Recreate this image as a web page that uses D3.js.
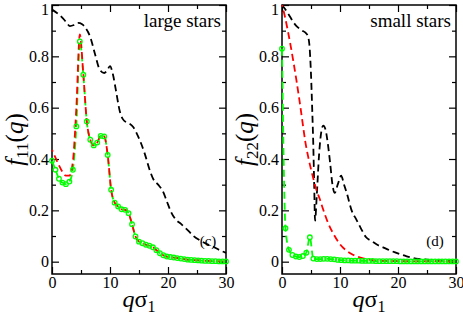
<!DOCTYPE html>
<html><head><meta charset="utf-8">
<script src="https://cdn.jsdelivr.net/npm/d3@7"></script>
<style>body{margin:0;background:#fff}svg{display:block}</style>
</head><body>
<svg id="c" width="463" height="317"></svg>
<script>
// ---- data ----
const qGrid = [0,0.6,1.2,1.8,2.4,3.0,3.6,4.2,4.8,5.4,6.0,6.6,7.2,7.8,8.4,9.0,9.6,10.2,10.8,11.4,12.0,12.6,13.2,13.8,14.4,15.0,15.6,16.2,16.8,17.4,18.0,18.6,19.2,19.8,20.4,21.0,21.6,22.2,22.8,23.4,24.0,24.6,25.2,25.8,26.4,27.0,27.6,28.2,28.8,29.4,30.0];

// left panel (large stars)
const largeGreen = [0.393,0.358,0.323,0.308,0.302,0.312,0.358,0.527,0.858,0.728,0.546,0.475,0.453,0.464,0.49,0.488,0.416,0.28,0.23,0.215,0.204,0.202,0.189,0.146,0.098,0.078,0.072,0.066,0.062,0.056,0.045,0.033,0.025,0.02,0.018,0.016,0.014,0.012,0.01,0.008,0.007,0.006,0.005,0.004,0.003,0.003,0.002,0.002,0.001,0.001,0.001];
const largeRed = [0.436,0.405,0.375,0.35,0.335,0.335,0.39,0.6,0.885,0.73,0.546,0.475,0.453,0.464,0.49,0.488,0.416,0.28,0.23,0.215,0.204,0.202,0.189,0.146,0.098,0.078,0.072,0.066,0.062,0.056,0.045,0.033,0.025,0.02,0.018,0.016,0.014,0.012,0.01,0.008,0.007,0.006,0.005,0.004,0.003,0.003,0.002,0.002,0.001,0.001,0.001];
const largeBlackQ = [0,0.8,1.6,2.4,3.1,3.8,4.5,5.2,5.8,6.6,7.4,8.2,9.0,9.5,10.0,10.5,11.0,11.7,12.4,13.2,14.0,14.6,15.2,16.0,16.8,17.5,18.3,19.1,19.8,20.5,21.3,22.2,23.3,24.4,25.5,26.6,27.8,29.0,30.0];
const largeBlack = [0.982,0.97,0.955,0.935,0.918,0.922,0.93,0.925,0.91,0.875,0.81,0.75,0.735,0.745,0.762,0.73,0.67,0.585,0.55,0.54,0.525,0.5,0.47,0.42,0.36,0.32,0.30,0.275,0.235,0.195,0.165,0.148,0.125,0.1,0.083,0.07,0.058,0.044,0.034];

// right panel (small stars)
const smallGreen = [0.83,0.13,0.046,0.026,0.02,0.018,0.022,0.035,0.095,0.012,0.01,0.01,0.011,0.011,0.01,0.009,0.007,0.006,0.005,0.005,0.004,0.004,0.004,0.003,0.003,0.003,0.003,0.002,0.002,0.002,0.002,0.002,0.002,0.002,0.001,0.001,0.001,0.001,0.001,0.001,0.001,0.001,0.001,0.001,0.001,0.001,0.001,0.001,0.001,0.001,0.001];
const smallRedQ = [0,0.5,1.0,1.5,2.0,2.5,3.0,3.5,4.0,4.5,5.0,5.5,6.0,6.5,7.0,8.0,9.0,10.0,11.0,12.0,13.0,14.0,15.0,16.0,18.0,20.0,22.0,25.0,30.0];
const smallRed = [1.0,0.955,0.9,0.84,0.775,0.705,0.63,0.55,0.47,0.41,0.36,0.315,0.275,0.245,0.21,0.148,0.103,0.068,0.045,0.03,0.02,0.013,0.008,0.005,0.003,0.002,0.001,0.001,0.0005];
const smallBlackQ = [0,0.5,1.0,1.5,2.0,2.5,3.0,3.5,4.0,4.4,4.7,5.0,5.2,5.4,5.55,5.7,6.0,6.4,6.8,7.1,7.5,7.9,8.3,8.7,9.1,9.6,10.2,10.7,11.2,12.0,12.8,13.6,14.5,15.5,16.5,17.5,18.5,19.5,20.5,21.5,22.5,23.5,25.0,26.5,28.0,30.0];
const smallBlack = [1.0,0.985,0.968,0.95,0.932,0.918,0.908,0.9,0.893,0.882,0.85,0.73,0.6,0.45,0.3,0.16,0.26,0.42,0.51,0.53,0.515,0.46,0.384,0.3,0.268,0.3,0.335,0.3,0.265,0.2,0.165,0.13,0.095,0.08,0.065,0.055,0.045,0.036,0.028,0.021,0.015,0.011,0.008,0.006,0.004,0.003];

const xTicks = [0,10,20,30];
const xMinor = [5,15,25];
const yTicks = [0,0.2,0.4,0.6,0.8,1];
const yMinor = [0.1,0.3,0.5,0.7,0.9];

const panels = [
  {x0:52, x1:226, title:"large stars", tag:"(c)", tagX:208, sub:"11",
   black:[largeBlackQ,largeBlack], red:[qGrid,largeRed], green:[qGrid,largeGreen]},
  {x0:282, x1:456, title:"small stars", tag:"(d)", tagX:435, sub:"22",
   black:[smallBlackQ,smallBlack], red:[smallRedQ,smallRed], green:[qGrid,smallGreen]}
];

// ---- drawing ----
const svg = d3.select("#c");
const yTop = 5, yBot = 274;
const FONT = '"Liberation Serif"';
const y = d3.scaleLinear().domain([-0.048,1]).range([yBot,yTop]);

panels.forEach(p => {
  const x = d3.scaleLinear().domain([0,30]).range([p.x0,p.x1]);
  const g = svg.append("g");
  const line = d3.line().x(d=>x(d[0])).y(d=>y(d[1])).curve(d3.curveMonotoneX);
  const pts = arr => arr[0].map((q,i)=>[q,arr[1][i]]);

  const mk = (axis, tr, vals, size, fmt) => {
    const a = g.append("g").attr("transform", tr)
      .call(axis.tickValues(vals).tickSizeInner(-size).tickSizeOuter(0).tickPadding(3).tickFormat(fmt));
    a.select(".domain").remove();
    a.attr("font-family",null).attr("font-size",null);
    a.selectAll("line").attr("stroke","#000").attr("stroke-width",1.2);
    a.selectAll("text").style("font-family",FONT).attr("font-size",16).attr("fill","#000");
    return a;
  };
  const yl = mk(d3.axisLeft(y), `translate(${p.x0},0)`, yTicks, 7, d=>d===0?"0":d===1?"1":d3.format(".1f")(d));
  yl.selectAll("text").filter(d=>d===1).attr("dy","0.62em");
  mk(d3.axisLeft(y), `translate(${p.x0},0)`, yMinor, 4, ()=>"");
  mk(d3.axisRight(y), `translate(${p.x1},0)`, yTicks, 7, ()=>"");
  mk(d3.axisRight(y), `translate(${p.x1},0)`, yMinor, 4, ()=>"");
  mk(d3.axisBottom(x), `translate(0,${yBot})`, xTicks, 7, d3.format("d"));
  mk(d3.axisBottom(x), `translate(0,${yBot})`, xMinor, 4, ()=>"");
  mk(d3.axisTop(x), `translate(0,${yTop})`, xTicks, 7, ()=>"");
  mk(d3.axisTop(x), `translate(0,${yTop})`, xMinor, 4, ()=>"");

  g.append("rect").attr("x",p.x0).attr("y",yTop).attr("width",p.x1-p.x0).attr("height",yBot-yTop)
    .attr("fill","none").attr("stroke","#000").attr("stroke-width",1.5);

  g.append("path").attr("d",line(pts(p.black))).attr("fill","none")
    .attr("stroke","#000").attr("stroke-width",1.8).attr("stroke-dasharray","7,4");
  g.append("path").attr("d",line(pts(p.green))).attr("fill","none")
    .attr("stroke","#00ff00").attr("stroke-width",1.8).attr("stroke-dasharray","7,4");
  g.append("path").attr("d",line(pts(p.red))).attr("fill","none")
    .attr("stroke","#ff0000").attr("stroke-width",1.8).attr("stroke-dasharray","7,4").attr("stroke-dashoffset",5);
  g.selectAll("circle.m").data(pts(p.green)).enter().append("circle")
    .attr("cx",d=>x(d[0])).attr("cy",d=>y(d[1])).attr("r",2.3)
    .attr("fill","none").attr("stroke","#00ff00").attr("stroke-width",1.3);

  g.append("text").attr("x",p.x1-5).attr("y",27).attr("text-anchor","end")
    .style("font-family",FONT).attr("font-size",19).text(p.title);
  g.append("text").attr("x",p.tagX).attr("y",246).attr("text-anchor","middle")
    .style("font-family",FONT).attr("font-size",15).text(p.tag);

  const xt = g.append("text").attr("x",(p.x0+p.x1)/2).attr("y",307).attr("text-anchor","middle")
    .style("font-family",FONT).attr("font-size",24);
  xt.append("tspan").attr("font-style","italic").text("q");
  xt.append("tspan").text("σ");
  xt.append("tspan").attr("font-size",16).attr("dy",5).text("1");

  const yt = g.append("text").attr("transform",`translate(${p.x0-29},${(yTop+yBot)/2}) rotate(-90)`)
    .attr("text-anchor","middle").style("font-family",FONT).attr("font-size",25);
  yt.append("tspan").attr("font-style","italic").text("f");
  yt.append("tspan").attr("font-size",17).attr("dy",5).text(p.sub);
  yt.append("tspan").attr("dy",-5).text("(");
  yt.append("tspan").attr("font-style","italic").text("q");
  yt.append("tspan").text(")");
});
</script>
</body></html>
